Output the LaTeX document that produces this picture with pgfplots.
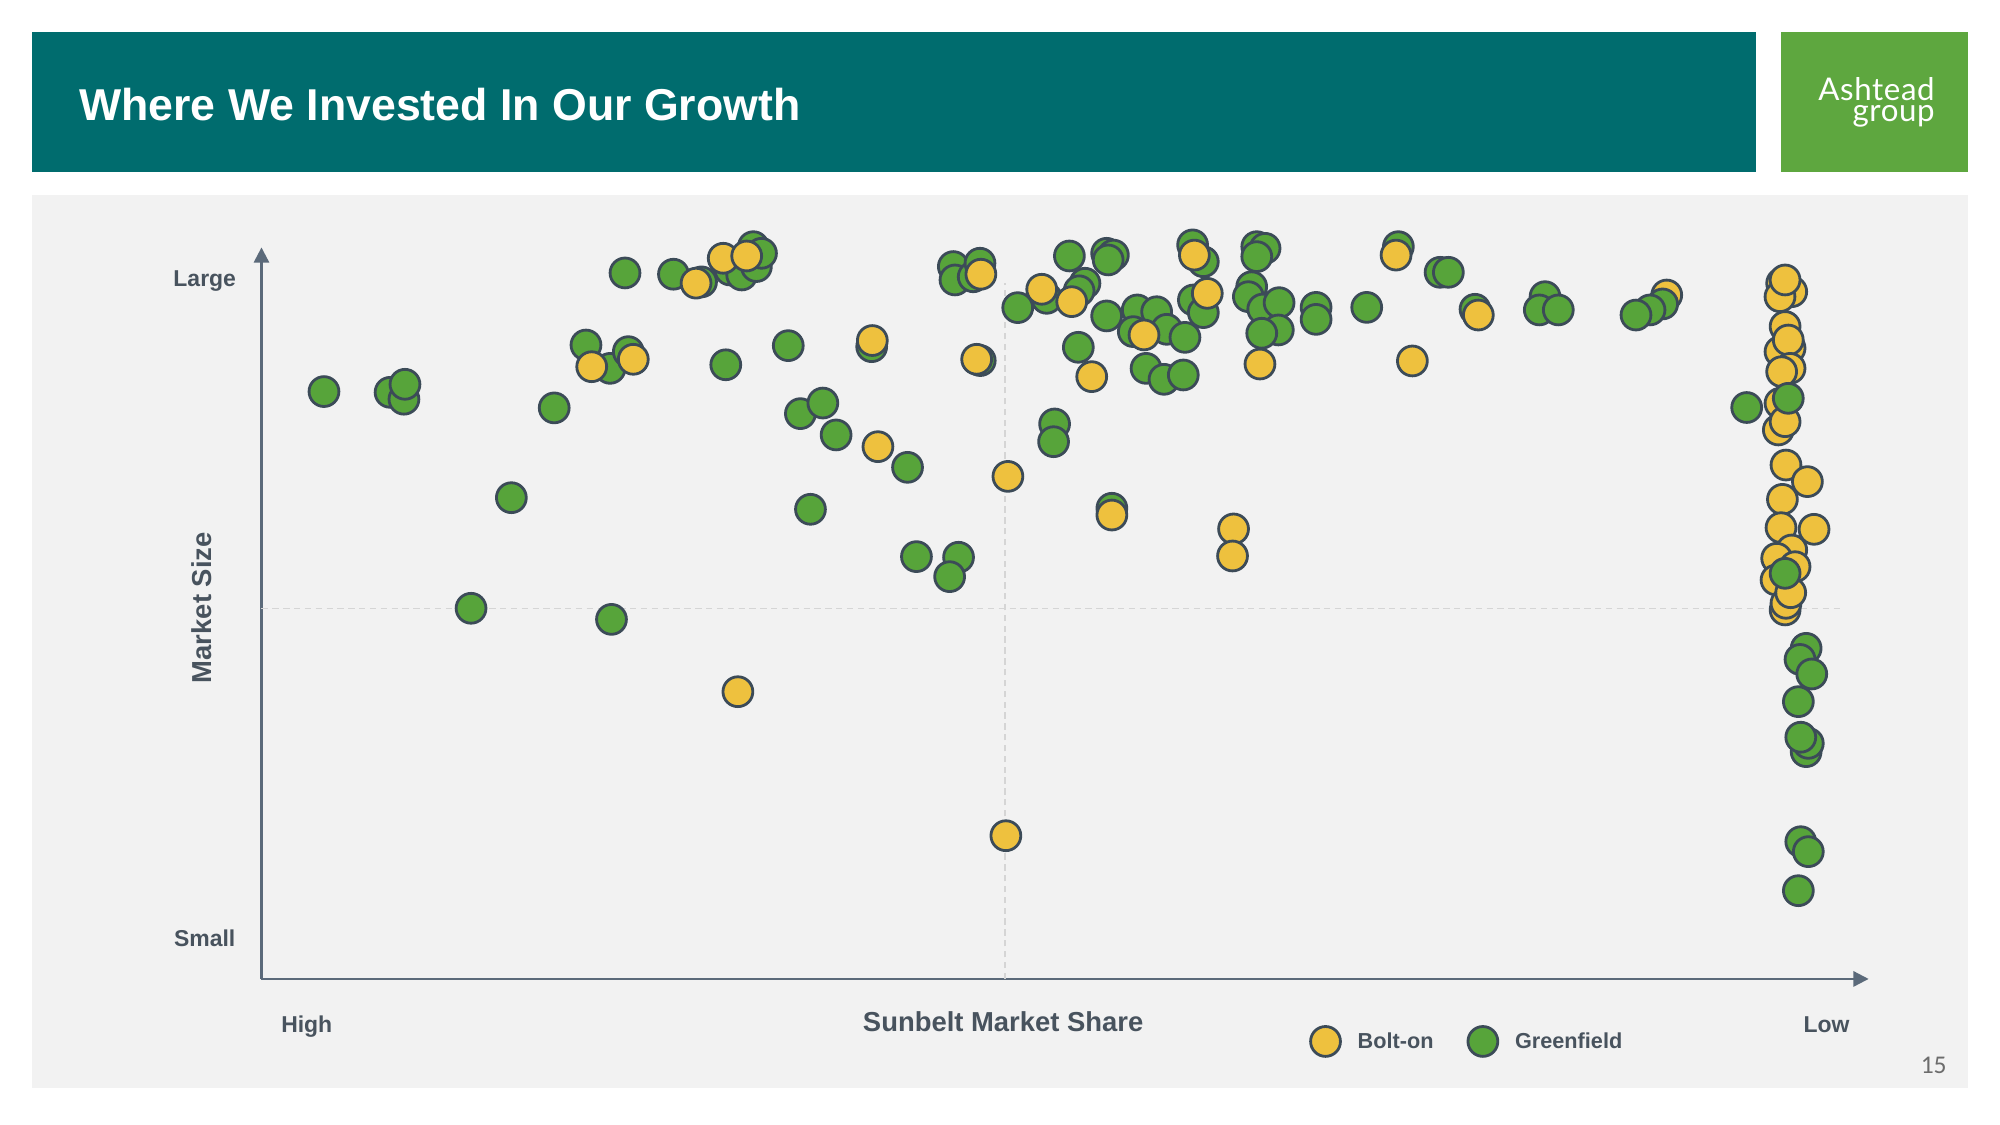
\documentclass[border=0pt]{standalone}
\usepackage{fontspec}
\setmainfont{Liberation Sans}
\newfontfamily\logofont[LetterSpace=2]{Lato}
\newfontfamily\numfont{Carlito}
\usepackage{pgfplots}
\pgfplotsset{compat=1.18}
\usetikzlibrary{arrows.meta}
\definecolor{headteal}{HTML}{006C6E}
\definecolor{logogreen}{HTML}{5EA73F}
\definecolor{panel}{HTML}{F2F2F2}
\definecolor{axisc}{HTML}{5B6A7A}
\definecolor{txt}{HTML}{48535E}
\definecolor{boltY}{HTML}{EEC13E}
\definecolor{greenG}{HTML}{57A43A}
\definecolor{ring}{HTML}{3C4B58}
\definecolor{dashc}{HTML}{D5D5D5}
\pgfplotsset{dotlegend/.style={legend image code/.code={\draw[##1] plot coordinates {(0pt,0pt)};}}}
\pgfplotstableread{
x y
1101.7 536.2
}\yellowback
\pgfplotstableread{
x y
49 460.5
100.8 459.9
111.7 454.5
112.5 466.2
229.5 447.7
195.9 377.3
164.3 290.6
274.4 281.9
254.4 497
273.3 478.7
287.6 491.8
285 553.5
323 552.5
345 546.5
367.3 555.8
376.5 551.9
388 558.5
385.6 574.1
392 568.9
364 481.5
413 496.5
478.4 495.7
422.5 443.2
440.1 451.5
450.5 426.5
430.4 368.2
506.5 401.1
513.5 331.1
546.5 330.6
539.5 315.4
542.4 558.5
543.7 548
558 550.5
563.3 561.1
563.5 484.8
592.9 526.3
615.6 533.6
633.4 566.8
645.6 545.4
641 539.5
621.8 435.1
621 421.2
640.4 495.2
662.6 568.9
667.9 567.5
663.8 563.7
662.6 519.8
686.6 524.5
701.8 523.1
683.5 507.5
709.7 509.3
724 503
693.5 478.7
707.6 470.1
722.7 473.5
730 575.5
738.4 562.3
730.6 532.3
738.4 522.4
780.3 574.1
786.8 572.8
780.3 566.3
776.3 542.7
773.7 534.9
785 525.2
797.8 530.2
797.2 508.8
784.2 506.2
826.8 526.5
826.8 517.1
866.5 526.5
891.3 574.1
924 554
930.5 554
951.4 525
1006.3 534.9
1001.8 524.5
1016.7 524.5
1098.5 529.2
1088.6 524.5
1077.6 520.5
1164.4 448
666.7 369
1211 259.2
1206.2 250.5
1215.4 239.1
1204.9 217.4
1211 178.2
1212.7 184.7
1206.8 189.5
1206.8 107.6
1212.7 99.8
1204.9 69.2
}\greenmain
\pgfplotstableread{
x y
258.9 480
291.5 485.8
340.7 545.5
362 565
380.4 566.8
478.9 500.5
483.3 417.3
373.5 225.2
564 552.5
560.7 485.8
611.7 540.7
635.2 531
650.9 472.2
585.2 394
666.7 363.7
762.1 352.8
761.3 331.6
583.6 112.3
691.9 504.9
731.4 567.5
741.5 537.5
782.8 482.1
889.5 567.5
954 520.5
902.3 484.5
1191.8 545.4
1199.7 538.8
1190.5 534.9
1194.5 548
1194.5 511.5
1198.4 494.5
1190.5 491.8
1197 500.9
1198.4 478.7
1191.8 476.1
1190.5 451.3
1189.2 430.4
1194.5 436.9
1195.2 402.9
1212 389.9
1192.4 376
1191.3 353.8
1217.2 352.5
1199.7 336.3
1187.9 329.8
1202.3 323.2
1187.4 312.8
1194.5 289.3
1195.2 294.5
1198.9 302.8
}\yellowmain
\pgfplotstableread{
x y
1197 455.2
1194.5 318
}\greentop
\begin{document}
\begin{tikzpicture}[x=1pt,y=1pt]
\fill[white] (0,0) rectangle (1568,882);
\fill[headteal] (25,747.4) rectangle (1377,857);
\fill[logogreen] (1396,747.4) rectangle (1543,857);
\fill[panel] (25,29) rectangle (1543,729);
\node[anchor=base west, text=white, font=\fontsize{35}{42}\selectfont\bfseries, inner sep=0pt] at (62,787.4) {Where We Invested In Our Growth};
\node[anchor=north east, align=right, text=white, font=\logofont\fontsize{24.5}{16.5}\selectfont, inner sep=0pt] at (1517,821.5) {Ashtead\\group};
\begin{axis}[
  at={(205,114.5)}, anchor=south west,
  scale only axis, width=1260pt, height=573.5pt,
  xmin=0, xmax=1260, ymin=0, ymax=573.5,
  axis lines=left,
  axis line style={axisc, line width=1.8pt, -{Triangle[width=12pt,length=12pt]}},
  xtick=\empty, ytick=\empty,
  clip=false,
  legend columns=2, reverse legend, legend cell align=left,
  legend style={draw=none, fill=none, inner sep=0pt, outer sep=0pt,
    at={(axis cs:822.5,-49)}, anchor=west,
    font=\fontsize{17}{20}\selectfont\bfseries, text=txt,
    nodes={inner sep=0pt},
    /tikz/every odd column/.append style={column sep=13.5pt},
    /tikz/every even column/.append style={column sep=27pt}},
  every axis plot/.append style={mark size=11.7pt},
]
\addplot[dashc, line width=1.3pt, dash pattern=on 5pt off 3.5pt, forget plot] coordinates {(583,0) (583,545.5)};
\addplot[dashc, line width=1.3pt, dash pattern=on 5pt off 3.5pt, forget plot] coordinates {(0,290.5) (1240,290.5)};
\addplot[only marks, mark=*, mark options={fill=boltY, draw=ring, line width=2.2pt}, forget plot] table {\yellowback};
\addplot[only marks, mark=*, mark options={fill=greenG, draw=ring, line width=2.2pt}, dotlegend] table {\greenmain};
\addlegendentry{Greenfield}
\addplot[only marks, mark=*, mark options={fill=boltY, draw=ring, line width=2.2pt}, dotlegend] table {\yellowmain};
\addlegendentry{Bolt-on}
\addplot[only marks, mark=*, mark options={fill=greenG, draw=ring, line width=2.2pt}, forget plot] table {\greentop};
\end{axis}
\node[anchor=base, text=txt, font=\fontsize{21.5}{24}\selectfont\bfseries, inner sep=0pt] at (786.5,73.5) {Sunbelt Market Share};
\node[anchor=center, rotate=90, text=txt, font=\fontsize{21.5}{24}\selectfont\bfseries, inner sep=0pt] at (158,405.5) {Market Size};
\node[anchor=base, text=txt, font=\fontsize{18}{20}\selectfont\bfseries, inner sep=0pt] at (160.5,657) {Large};
\node[anchor=base, text=txt, font=\fontsize{18}{20}\selectfont\bfseries, inner sep=0pt] at (160.5,140) {Small};
\node[anchor=base, text=txt, font=\fontsize{18}{20}\selectfont\bfseries, inner sep=0pt] at (240.5,72.5) {High};
\node[anchor=base, text=txt, font=\fontsize{18}{20}\selectfont\bfseries, inner sep=0pt] at (1432,72.5) {Low};
\node[anchor=center, text=gray!85!black, font=\numfont\fontsize{20}{22}\selectfont, inner sep=0pt] at (1516,47) {15};
\end{tikzpicture}
\end{document}
